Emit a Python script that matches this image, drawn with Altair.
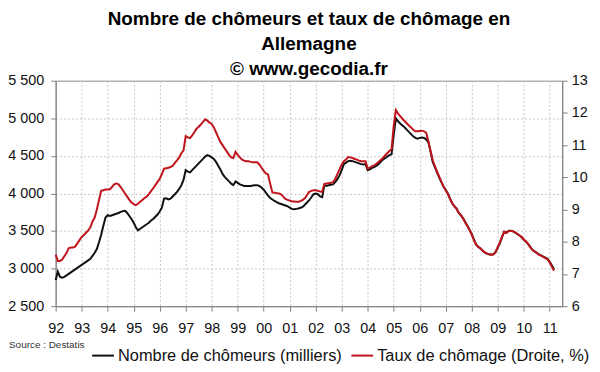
import altair as alt
import pandas as pd

years = list(range(1992, 2012))

# Nombre de chômeurs (milliers), mensuel, janv. 1992 - mars 2011
chomeurs_rows = [
    [2850, 2960, 2890, 2880, 2890, 2910, 2930, 2950, 2970, 2990, 3010, 3030],
    [3050, 3070, 3090, 3110, 3130, 3170, 3210, 3260, 3350, 3450, 3570, 3680],
    [3710, 3700, 3710, 3720, 3730, 3740, 3755, 3765, 3770, 3740, 3700, 3660],
    [3610, 3550, 3510, 3530, 3550, 3570, 3590, 3610, 3640, 3660, 3690, 3720],
    [3760, 3810, 3930, 3935, 3920, 3930, 3960, 3990, 4020, 4060, 4110, 4180],
    [4310, 4290, 4280, 4310, 4340, 4370, 4400, 4430, 4460, 4490, 4510, 4500],
    [4480, 4460, 4420, 4370, 4320, 4260, 4220, 4190, 4160, 4130, 4110, 4160],
    [4140, 4120, 4110, 4100, 4100, 4100, 4100, 4105, 4110, 4110, 4100, 4080],
    [4050, 4010, 3970, 3940, 3920, 3900, 3885, 3870, 3860, 3850, 3840, 3830],
    [3810, 3795, 3790, 3795, 3800, 3810, 3820, 3850, 3880, 3910, 3950, 3990],
    [4000, 3990, 3960, 3950, 4110, 4100, 4110, 4115, 4120, 4150, 4190, 4240],
    [4310, 4390, 4410, 4430, 4435, 4430, 4420, 4410, 4400, 4390, 4385, 4390],
    [4310, 4320, 4340, 4350, 4370, 4390, 4420, 4450, 4470, 4490, 4510, 4520],
    [4780, 5000, 4960, 4930, 4905, 4880, 4850, 4820, 4790, 4760, 4740, 4730],
    [4740, 4745, 4740, 4720, 4680, 4560, 4420, 4350, 4280, 4210, 4150, 4090],
    [4045, 4000, 3930, 3870, 3830, 3800, 3740, 3710, 3670, 3620, 3570, 3515],
    [3460, 3390, 3320, 3290, 3270, 3240, 3215, 3200, 3190, 3185, 3190, 3220],
    [3280, 3340, 3420, 3490, 3480, 3500, 3505, 3495, 3480, 3460, 3440, 3420],
    [3385, 3360, 3330, 3290, 3250, 3230, 3210, 3190, 3175, 3160, 3145, 3130],
    [3090, 3040, 2990],
]

# Taux de chômage (%), mensuel
taux_rows = [
    [7.60, 7.40, 7.40, 7.45, 7.55, 7.65, 7.80, 7.82, 7.82, 7.85, 7.95, 8.05],
    [8.15, 8.21, 8.28, 8.35, 8.45, 8.63, 8.75, 9.00, 9.30, 9.58, 9.60, 9.62],
    [9.62, 9.63, 9.70, 9.78, 9.81, 9.78, 9.70, 9.60, 9.50, 9.40, 9.30, 9.22],
    [9.17, 9.14, 9.18, 9.24, 9.30, 9.36, 9.40, 9.48, 9.57, 9.66, 9.76, 9.86],
    [9.95, 10.10, 10.27, 10.28, 10.30, 10.32, 10.36, 10.45, 10.53, 10.62, 10.75, 10.84],
    [11.28, 11.24, 11.22, 11.30, 11.40, 11.51, 11.57, 11.64, 11.72, 11.80, 11.76, 11.70],
    [11.66, 11.55, 11.40, 11.25, 11.10, 11.00, 10.90, 10.80, 10.70, 10.62, 10.60, 10.79],
    [10.70, 10.62, 10.55, 10.52, 10.50, 10.50, 10.48, 10.47, 10.47, 10.47, 10.40, 10.30],
    [10.20, 10.12, 10.09, 9.80, 9.53, 9.52, 9.51, 9.50, 9.47, 9.40, 9.33, 9.30],
    [9.28, 9.26, 9.25, 9.24, 9.24, 9.26, 9.30, 9.35, 9.45, 9.55, 9.58, 9.60],
    [9.60, 9.58, 9.56, 9.55, 9.80, 9.81, 9.82, 9.83, 9.85, 9.95, 10.10, 10.25],
    [10.40, 10.50, 10.55, 10.63, 10.62, 10.60, 10.57, 10.55, 10.52, 10.50, 10.50, 10.50],
    [10.27, 10.30, 10.35, 10.37, 10.42, 10.48, 10.54, 10.60, 10.68, 10.75, 10.82, 10.87],
    [11.60, 12.09, 11.98, 11.90, 11.82, 11.75, 11.68, 11.61, 11.55, 11.48, 11.43, 11.43],
    [11.44, 11.45, 11.43, 11.38, 11.12, 10.82, 10.53, 10.35, 10.18, 10.02, 9.86, 9.72],
    [9.60, 9.48, 9.33, 9.19, 9.10, 9.02, 8.90, 8.83, 8.72, 8.60, 8.49, 8.37],
    [8.22, 8.06, 7.91, 7.84, 7.79, 7.73, 7.67, 7.64, 7.61, 7.60, 7.61, 7.68],
    [7.83, 7.97, 8.16, 8.31, 8.28, 8.33, 8.34, 8.33, 8.29, 8.25, 8.20, 8.15],
    [8.07, 8.02, 7.93, 7.83, 7.75, 7.70, 7.65, 7.60, 7.57, 7.53, 7.49, 7.45],
    [7.36, 7.22, 7.10],
]

left_ticks = [2500, 3000, 3500, 4000, 4500, 5000, 5500]
right_ticks = [6, 7, 8, 9, 10, 11, 12, 13]
lab_c = "Nombre de chômeurs (milliers)"
lab_t = "Taux de chômage (Droite, %)"
title_lines = ["Nombre de chômeurs et taux de chômage en", "Allemagne", "© www.gecodia.fr"]

t_vals, c_vals, r_vals = [], [], []
for y, crow, trow in zip(years, chomeurs_rows, taux_rows):
    for m, (c, r) in enumerate(zip(crow, trow)):
        t_vals.append(y + m / 12.0)
        c_vals.append(c)
        r_vals.append(r)

df_c = pd.DataFrame({"t": t_vals, "v": c_vals, "serie": lab_c})
df_t = pd.DataFrame({"t": t_vals, "v": r_vals, "serie": lab_t})

AX = "#808080"
GRID = "#c8c8c8"
TXT = "#111111"

color = alt.Color(
    "serie:N",
    scale=alt.Scale(domain=[lab_c, lab_t], range=["#111111", "#c0141c"]),
    legend=alt.Legend(
        orient="none", legendX=35.7, legendY=264.5, direction="horizontal",
        title=None, symbolType="stroke", symbolSize=480, symbolStrokeWidth=2,
        labelFontSize=16.5, labelOffset=3, columnPadding=5, padding=0,
        labelLimit=400, labelColor=TXT,
    ),
)

x_axis = alt.Axis(
    values=years, labelExpr="substring(toString(datum.value), 2)",
    labelOverlap=False, labelFlush=False, tickCount=20,
    grid=True, gridDash=[2, 2], gridColor=GRID, domainColor=AX, tickColor=AX,
    tickSize=5, labelPadding=11, labelFontSize=14.5, labelColor=TXT,
    title="Source : Destatis", titleX=-47.5, titleY=42, titleAlign="left",
    titleAnchor="start", titleFontSize=10, titleFontWeight="normal",
    titleBaseline="alphabetic", titleColor="#333333",
)
x_scale = alt.Scale(domain=[1992, 2011.48], nice=False, zero=False)

line_c = alt.Chart(df_c).mark_line(strokeWidth=2).encode(
    x=alt.X("t:Q", scale=x_scale, axis=x_axis),
    y=alt.Y(
        "v:Q",
        scale=alt.Scale(domain=[2500, 5500], nice=False, zero=False),
        axis=alt.Axis(
            orient="left", values=left_ticks,
            labelExpr="replace(format(datum.value, ','), ',', ' ')",
            grid=True, gridDash=[2, 2], gridColor=GRID, domainColor=AX, tickColor=AX,
            tickSize=5, labelPadding=7, labelFontSize=14.5, labelColor=TXT, title=None,
        ),
    ),
    color=color,
)

line_t = alt.Chart(df_t).mark_line(strokeWidth=2).encode(
    x=alt.X("t:Q", scale=x_scale, axis=x_axis),
    y=alt.Y(
        "v:Q",
        scale=alt.Scale(domain=[6, 13], nice=False, zero=False),
        axis=alt.Axis(
            orient="right", values=right_ticks, grid=False, domainColor=AX,
            tickColor=AX, tickSize=5, labelPadding=4, labelFontSize=14.5,
            labelColor=TXT, title=None,
        ),
    ),
    color=color,
)

chart = (
    alt.layer(line_c, line_t)
    .resolve_scale(y="independent")
    .properties(
        width=510, height=227,
        padding={"left": 48, "top": 72, "right": 30, "bottom": 58},
        autosize=alt.AutoSizeParams(type="none"),
        title=alt.TitleParams(
            text=title_lines, fontSize=19, fontWeight="bold", lineHeight=25,
            anchor="middle", offset=3, dy=9, color="#000000",
        ),
    )
    .configure(font="Liberation Sans", background="white")
    .configure_view(stroke=AX, strokeWidth=1)
)

chart.save("out.html", embed_options={"renderer": "svg", "actions": False})
